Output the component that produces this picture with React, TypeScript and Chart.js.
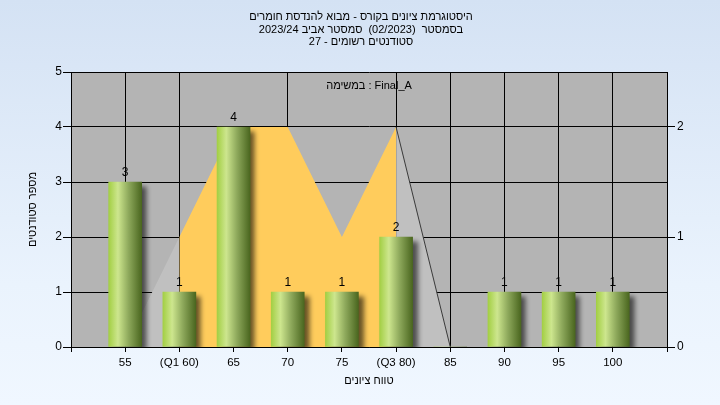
import React, { useEffect, useRef } from 'react';
import { Chart, registerables } from 'chart.js';

Chart.register(...registerables);

// ---- data ----
const titleLines = [
  'היסטוגרמת ציונים בקורס - מבוא להנדסת חומרים',
  'בסמסטר  (02/2023)  סמסטר אביב 2023/24',
  'סטודנטים רשומים - 27',
];
const taskLabel = 'במשימה : Final_A';
const yAxisTitle = 'מספר סטודנטים';
const xAxisTitle = 'טווח ציונים';

const gradeBins = [55, 60, 65, 70, 75, 80, 85, 90, 95, 100];
const studentCounts = [3, 1, 4, 1, 1, 2, 0, 1, 1, 1];
const tickLabelValues = [55, 60, 65, 70, 75, 80, 85, 90, 95, 100];
const tickLabelTexts = ['55', '(Q1 60)', '65', '70', '75', '(Q3 80)', '85', '90', '95', '100'];
const gridValues = [55, 60, 70, 80, 85, 90, 95, 100];
const rightTicks = [0, 1, 2];

const lowerTailX = [55, 60];
const lowerTailY = [0, 1];
const iqrX = [60, 65, 70, 75, 80];
const iqrY = [1, 2, 2, 1, 2];
const upperTailX = [80, 85];
const upperTailY = [2, 0];

const FONT = "'Liberation Sans', Arial, sans-serif";
const BAR_W = 33;

export default function App() {
  const ref = useRef<HTMLCanvasElement | null>(null);

  useEffect(() => {
    if (!ref.current) return;
    const bgPlugin = {
      id: 'plotBg',
      beforeDraw(chart: any) {
        const { ctx, chartArea: a } = chart;
        ctx.save();
        ctx.fillStyle = '#b4b4b4';
        ctx.fillRect(a.left, a.top, a.right - a.left, a.bottom - a.top);
        ctx.restore();
      },
    };
    const shadowPlugin = {
      id: 'barShadow',
      beforeDatasetDraw(chart: any, args: any) {
        if (args.index !== 0) return;
        const ctx = chart.ctx;
        ctx.save();
        ctx.shadowColor = 'rgba(0,0,0,0.6)';
        ctx.shadowBlur = 5;
        ctx.shadowOffsetX = 5;
        ctx.shadowOffsetY = 4;
      },
      afterDatasetDraw(chart: any, args: any) {
        if (args.index !== 0) return;
        chart.ctx.restore();
      },
    };
    const textPlugin = {
      id: 'texts',
      afterDatasetsDraw(chart: any) {
        const { ctx, chartArea: a } = chart;
        const xs = chart.scales.x;
        const ys = chart.scales.y;
        ctx.save();
        ctx.fillStyle = '#000';
        ctx.font = `12px ${FONT}`;
        ctx.textAlign = 'center';
        ctx.textBaseline = 'alphabetic';
        gradeBins.forEach((g, i) => {
          const v = studentCounts[i];
          if (!v) return;
          ctx.fillText(String(v), xs.getPixelForValue(g), ys.getPixelForValue(v) - 6);
        });
        ctx.font = `11px ${FONT}`;
        ctx.direction = 'ltr';
        ctx.textBaseline = 'middle';
        ctx.fillText(taskLabel, (a.left + a.right) / 2, 86);
        ctx.direction = 'rtl';
        const tys = [17, 30, 42];
        titleLines.forEach((t, i) => ctx.fillText(t, 361, tys[i]));
        ctx.restore();
      },
    };

    const chart = new Chart(ref.current, {
      type: 'bar',
      data: {
        datasets: [
          {
            type: 'bar',
            data: gradeBins.map((g, i) => ({ x: g, y: studentCounts[i] })),
            barThickness: BAR_W,
            order: 0,
            yAxisID: 'y',
            backgroundColor: (c: any) => {
              const chart = c.chart;
              if (!chart.chartArea || c.dataIndex === undefined) return '#9fc84a';
              const x = chart.scales.x.getPixelForValue(gradeBins[c.dataIndex]);
              const g = chart.ctx.createLinearGradient(x - BAR_W / 2, 0, x + BAR_W / 2, 0);
              g.addColorStop(0, '#a3cf44');
              g.addColorStop(0.28, '#cde68e');
              g.addColorStop(0.6, '#8ea95c');
              g.addColorStop(1, '#4a661f');
              return g;
            },
            borderWidth: 0,
          } as any,
          {
            type: 'line',
            data: lowerTailX.map((x, i) => ({ x, y: lowerTailY[i] })),
            yAxisID: 'y2',
            fill: 'origin',
            backgroundColor: '#c0c0c0',
            borderWidth: 0,
            borderColor: 'rgba(0,0,0,0)',
            pointRadius: 0,
            order: 2,
          } as any,
          {
            type: 'line',
            data: iqrX.map((x, i) => ({ x, y: iqrY[i] })),
            yAxisID: 'y2',
            fill: 'origin',
            backgroundColor: '#ffcc5c',
            borderWidth: 0,
            borderColor: 'rgba(0,0,0,0)',
            pointRadius: 0,
            order: 2,
          } as any,
          {
            type: 'line',
            data: upperTailX.map((x, i) => ({ x, y: upperTailY[i] })),
            yAxisID: 'y2',
            fill: 'origin',
            backgroundColor: '#c0c0c0',
            borderWidth: 1,
            borderColor: '#3a3a3a',
            pointRadius: 0,
            order: 2,
          } as any,
        ],
      },
      options: {
        animation: false,
        responsive: true,
        maintainAspectRatio: false,
        layout: { padding: { top: 72, left: 0, right: 0, bottom: 0 } },
        plugins: { legend: { display: false }, tooltip: { enabled: false }, title: { display: false } },
        scales: {
          x: {
            type: 'linear',
            min: 50,
            max: 105,
            offset: false,
            afterFit(s: any) { s.height = 58; },
            ticks: {
              stepSize: 5,
              autoSkip: false,
              maxRotation: 0,
              color: '#000',
              padding: 4,
              font: { family: FONT, size: 11.5 },
              callback: (v: any) => {
                const i = tickLabelValues.indexOf(Number(v));
                return i >= 0 ? tickLabelTexts[i] : '';
              },
            },
            grid: {
              offset: false,
              color: (c: any) => (c.tick && gridValues.includes(Math.round(c.tick.value)) ? '#000' : 'rgba(0,0,0,0)'),
              tickColor: '#000',
              tickLength: 5,
              lineWidth: 1,
            },
            border: { color: '#000' },
            title: { display: true, text: xAxisTitle, color: '#000', font: { family: FONT, size: 11 }, padding: { top: 0, bottom: 17 } },
          },
          y: {
            position: 'left',
            min: 0,
            max: 5,
            afterFit(s: any) { s.width = 71; },
            ticks: { stepSize: 1, color: '#000', padding: 1, font: { family: FONT, size: 12 } },
            grid: { color: '#000', tickColor: '#000', tickLength: 8 },
            border: { color: '#000' },
            title: { display: true, text: yAxisTitle, color: '#000', font: { family: FONT, size: 11 }, padding: { top: 26, bottom: 0 } },
          },
          y2: {
            position: 'right',
            min: 0,
            max: 2.5,
            afterFit(s: any) { s.width = 53; },
            afterBuildTicks(s: any) { s.ticks = rightTicks.map((v) => ({ value: v })); },
            ticks: { color: '#000', padding: 2, font: { family: FONT, size: 12 } },
            grid: { drawOnChartArea: false, tickColor: '#000', tickLength: 8 },
            border: { color: '#000' },
          },
        },
      } as any,
      plugins: [bgPlugin, shadowPlugin, textPlugin],
    });
    return () => chart.destroy();
  }, []);

  return (
    <div
      style={{
        position: 'absolute',
        left: 0,
        top: 0,
        width: 720,
        height: 405,
        background: 'linear-gradient(180deg, #d4e2f4 0%, #eaf3fd 70%, #f0f7ff 100%)',
      }}
    >
      <canvas ref={ref} />
    </div>
  );
}
